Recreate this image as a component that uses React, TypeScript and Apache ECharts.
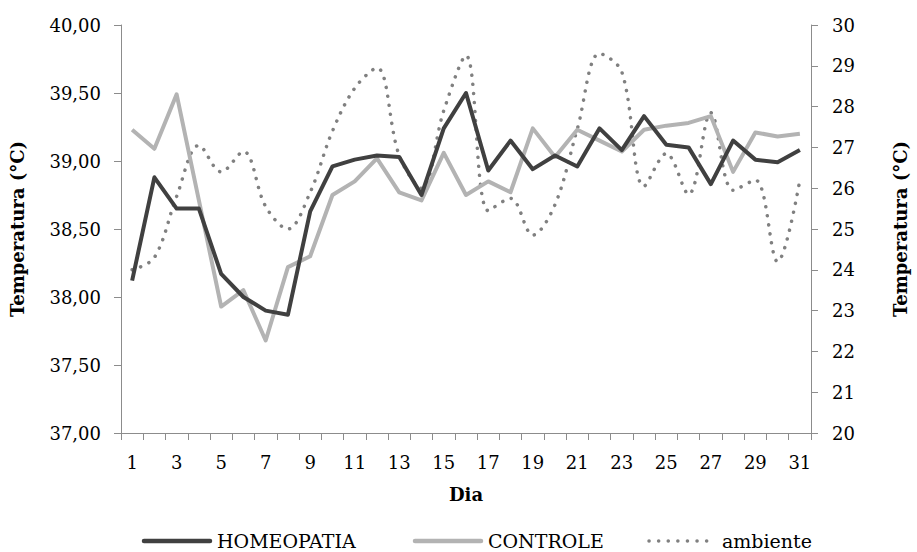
import React, { useEffect, useRef } from "react";
import * as echarts from "echarts";

const days = Array.from({ length: 31 }, (_, i) => String(i + 1));

const homeopatia = [
  38.12, 38.88, 38.65, 38.65, 38.17, 38.0, 37.9, 37.87, 38.63, 38.96,
  39.01, 39.04, 39.03, 38.75, 39.24, 39.5, 38.93, 39.15, 38.94, 39.04,
  38.96, 39.24, 39.08, 39.33, 39.12, 39.1, 38.83, 39.15, 39.01, 38.99,
  39.08,
];

const controle = [
  39.23, 39.09, 39.49, 38.71, 37.93, 38.05, 37.68, 38.22, 38.3, 38.75,
  38.85, 39.02, 38.77, 38.71, 39.06, 38.75, 38.85, 38.77, 39.24, 39.03,
  39.23, 39.15, 39.07, 39.23, 39.26, 39.28, 39.33, 38.92, 39.21, 39.18,
  39.2,
];

const ambiente = [
  24.0, 24.3, 25.8, 27.05, 26.4, 26.9, 25.55, 25.0, 25.9, 27.4,
  28.45, 28.95, 26.8, 26.0, 27.9, 29.25, 25.45, 25.75, 24.85, 25.6,
  27.45, 29.3, 28.85, 26.05, 26.85, 25.85, 27.85, 25.95, 26.2, 24.2,
  26.2,
];

const legendNames = ["HOMEOPATIA", "CONTROLE", "ambiente"];

const FONT = "DejaVu Serif";
const AXIS_GRAY = "#8c8c8c";
const DARK = "#404040";
const LIGHT = "#b3b3b3";
const DOT = "#808080";

export default function App() {
  const ref = useRef<HTMLDivElement>(null);

  useEffect(() => {
    if (!ref.current) return;
    const chart = echarts.init(ref.current, null, { renderer: "svg" });
    const legendY = 541;
    const legendItems = [
      { x: 142, color: DARK, width: 4.5, dash: null as any },
      { x: 413, color: LIGHT, width: 4.5, dash: null as any },
      { x: 647, color: DOT, width: 3.5, dash: [0.1, 9.5] },
    ];
    const graphic: any[] = [];
    legendItems.forEach((it, i) => {
      graphic.push({
        type: "line",
        shape: { x1: it.x + 2, y1: legendY, x2: it.x + 68, y2: legendY },
        style: {
          stroke: it.color,
          lineWidth: it.width,
          lineCap: "round",
          lineDash: it.dash || undefined,
        },
      });
      graphic.push({
        type: "text",
        x: it.x + 75,
        y: legendY,
        style: {
          text: legendNames[i],
          fontFamily: FONT,
          fontSize: 19,
          fill: "#000",
          verticalAlign: "middle",
          align: "left",
        },
      });
    });

    chart.setOption({
      animation: false,
      backgroundColor: "#ffffff",
      textStyle: { fontFamily: FONT, color: "#000" },
      grid: { left: 117, right: 84, top: 25, bottom: 119, containLabel: false },
      graphic,
      xAxis: {
        type: "category",
        data: days,
        boundaryGap: true,
        name: "Dia",
        nameLocation: "middle",
        nameGap: 52,
        nameTextStyle: { fontFamily: FONT, fontSize: 18, fontWeight: "bold", color: "#000" },
        axisLine: { lineStyle: { color: AXIS_GRAY, width: 1 } },
        axisTick: { show: true, interval: 0, length: 7, lineStyle: { color: AXIS_GRAY } },
        axisLabel: { interval: 1, margin: 20, fontFamily: FONT, fontSize: 18, color: "#000" },
        splitLine: { show: false },
      },
      yAxis: [
        {
          type: "value",
          min: 37,
          max: 40,
          interval: 0.5,
          position: "left",
          name: "Temperatura (°C)",
          nameLocation: "middle",
          nameRotate: 90,
          nameGap: 95,
          nameTextStyle: { fontFamily: FONT, fontSize: 18, fontWeight: "bold", color: "#000" },
          axisLine: { show: true, lineStyle: { color: AXIS_GRAY, width: 1 } },
          axisTick: { show: true, length: 7, lineStyle: { color: AXIS_GRAY } },
          axisLabel: {
            margin: 20,
            fontFamily: FONT,
            fontSize: 18,
            color: "#000",
            formatter: (v: number) => v.toFixed(2).replace(".", ","),
          },
          splitLine: { show: false },
        },
        {
          type: "value",
          min: 20,
          max: 30,
          interval: 1,
          position: "right",
          name: "Temperatura (°C)",
          nameLocation: "middle",
          nameRotate: 90,
          nameGap: 80,
          nameTextStyle: { fontFamily: FONT, fontSize: 18, fontWeight: "bold", color: "#000" },
          axisLine: { show: true, lineStyle: { color: AXIS_GRAY, width: 1 } },
          axisTick: { show: true, length: 7, lineStyle: { color: AXIS_GRAY } },
          axisLabel: { margin: 21, fontFamily: FONT, fontSize: 18, color: "#000" },
          splitLine: { show: false },
        },
      ],
      series: [
        {
          name: legendNames[0],
          type: "line",
          yAxisIndex: 0,
          data: homeopatia,
          symbol: "none",
          color: DARK,
          lineStyle: { color: DARK, width: 4, join: "round" },
          z: 3,
        },
        {
          name: legendNames[1],
          type: "line",
          yAxisIndex: 0,
          data: controle,
          symbol: "none",
          color: LIGHT,
          lineStyle: { color: LIGHT, width: 4, join: "round" },
          z: 2,
        },
        {
          name: legendNames[2],
          type: "line",
          yAxisIndex: 1,
          data: ambiente,
          symbol: "none",
          smooth: 0.35,
          color: DOT,
          lineStyle: { color: DOT, width: 3.5, type: [0.1, 9], cap: "round" },
          z: 1,
        },
      ],
    });
    return () => chart.dispose();
  }, []);

  return (
    <div
      ref={ref}
      style={{ position: "fixed", left: 0, top: 0, width: 917, height: 552, background: "#fff" }}
    />
  );
}
